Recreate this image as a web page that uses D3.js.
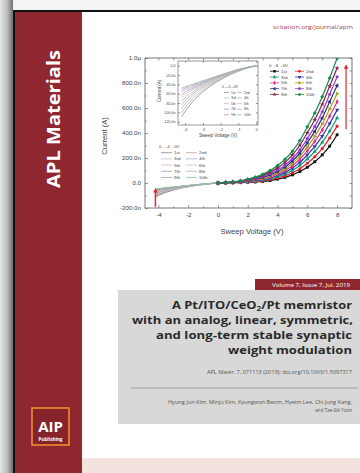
<!DOCTYPE html>
<html>
<head>
<meta charset="utf-8">
<script src="https://cdn.jsdelivr.net/npm/d3@7"></script>
<style>
  body { margin: 0; background: #fff; }
  svg { display: block; }
</style>
</head>
<body>
<div id="cover"></div>
<script>
// sweep voltages (V)
const posVoltage = [0, 0.5, 1, 1.5, 2, 2.5, 3, 3.5, 4, 4.5, 5, 5.5, 6, 6.5, 7, 7.5, 8];
const negVoltage = [0, -0.5, -1, -1.5, -2, -2.5, -3, -3.5, -4, -4.2];

// current (nA) for cycles 1st..10th, 0 -> 8 -> 0 V
const posCurrent = [
  [0, 1, 2, 3, 5, 8, 12, 19, 31, 45, 65, 92, 126, 170, 225, 295, 386],
  [0, 1, 3, 5, 7, 11, 17, 26, 40, 57, 82, 114, 158, 210, 275, 360, 455],
  [0, 2, 3, 6, 9, 14, 22, 33, 50, 71, 101, 140, 192, 252, 325, 415, 520],
  [0, 2, 4, 7, 11, 18, 27, 40, 60, 85, 120, 165, 225, 293, 375, 475, 585],
  [0, 2, 5, 9, 14, 22, 33, 48, 70, 99, 138, 190, 258, 333, 425, 535, 650],
  [0, 3, 6, 10, 17, 26, 39, 56, 81, 113, 157, 215, 290, 373, 473, 592, 715],
  [0, 3, 7, 12, 20, 30, 45, 65, 92, 127, 176, 240, 322, 413, 521, 650, 780],
  [0, 3, 8, 14, 23, 35, 52, 74, 104, 142, 196, 265, 355, 452, 570, 710, 850],
  [0, 4, 9, 16, 27, 41, 61, 87, 121, 165, 225, 302, 402, 506, 630, 775, 920],
  [0, 4, 10, 18, 30, 47, 70, 100, 140, 190, 255, 340, 450, 560, 690, 840, 1000]
];

// current (nA) for cycles 1st..10th, 0 -> -4 -> 0 V
const negCurrent = [
  [0, -5, -12, -20, -30, -42, -56, -74, -98, -110],
  [0, -5, -11, -19, -28, -39, -52, -68, -90, -101],
  [0, -5, -11, -18, -27, -37, -48, -62, -82, -92],
  [0, -4, -10, -17, -25, -35, -45, -58, -75, -84],
  [0, -4, -10, -16, -24, -33, -42, -54, -68, -76],
  [0, -4, -9, -16, -23, -31, -40, -50, -62, -69],
  [0, -4, -9, -15, -22, -30, -38, -47, -57, -63],
  [0, -4, -9, -15, -21, -28, -36, -44, -52, -57],
  [0, -4, -8, -14, -20, -27, -34, -41, -48, -52],
  [0, -4, -8, -14, -20, -26, -32, -39, -45, -48]
];

const cycleLabels = ['1st', '2nd', '3rd', '4th', '5th', '6th', '7th', '8th', '9th', '10th'];
const posColors = ['#111111', '#e0262c', '#1a9a7a', '#2b3ea6', '#e0368f', '#a8a41c', '#2b347e', '#8a3fd0', '#8e1d4c', '#118c4a'];
const negColors = ['#8c8c8c', '#c7a3a3', '#a9cbbf', '#a7aecb', '#d8a9c4', '#c9c79e', '#9c9fb8', '#bca6d8', '#b79aa8', '#8fbfa3'];

const xTicks = [-4, -2, 0, 2, 4, 6, 8];
const xTickLabels = ['-4', '-2', '0', '2', '4', '6', '8'];
const xMinor = [-3, -1, 1, 3, 5, 7];
const yTicks = [-200, 0, 200, 400, 600, 800, 1000];
const yTickLabels = ['-200.0n', '0.0', '200.0n', '400.0n', '600.0n', '800.0n', '1.0\u00b5'];
const yMinor = [-100, 100, 300, 500, 700, 900];

const insetXTicks = [-4, -3, -2, -1, 0];
const insetXTickLabels = ['-4', '-3', '-2', '-1', '0'];
const insetYTicks = [0, -20, -40, -60, -80, -100, -120];
const insetYTickLabels = ['0.0', '-20.0n', '-40.0n', '-60.0n', '-80.0n', '-100.0n', '-120.0n'];

const titleLines = ['A Pt/ITO/CeO', 'with an analog, linear, symmetric,', 'and long-term stable synaptic', 'weight modulation'];
const authorLines = ['Hyung Jun Kim, Minju Kim, Kyungwon Beom, Hyeim Lee, Chi Jung Kang,', 'and Tae-Sik Yoon'];

const W = 360, H = 473;
const chartFont = '"Liberation Sans", Arial, sans-serif';
const coverFont = '"Open Sans", "DejaVu Sans", sans-serif';
const maroon = '#8f2730';

const svg = d3.select('#cover').append('svg').attr('width', W).attr('height', H);
const defs = svg.append('defs');

// --- cover background -------------------------------------------------
const grad = defs.append('linearGradient').attr('id', 'shade').attr('x1', 0).attr('x2', 1).attr('y1', 0).attr('y2', 0);
grad.append('stop').attr('offset', 0).attr('stop-color', '#e4e4e4');
grad.append('stop').attr('offset', 0.55).attr('stop-color', '#bdbdbd');
grad.append('stop').attr('offset', 1).attr('stop-color', '#6f6f6f');

svg.append('rect').attr('width', W).attr('height', H).attr('fill', '#f4f4f4');
svg.append('rect').attr('x', 0).attr('y', 0).attr('width', 13).attr('height', H).attr('fill', 'url(#shade)');
svg.append('rect').attr('x', 13).attr('y', 10).attr('width', W - 13).attr('height', H - 10).attr('fill', '#111');
svg.append('rect').attr('x', 15).attr('y', 12).attr('width', W - 15).attr('height', H - 12).attr('fill', '#fff');
svg.append('rect').attr('x', 15).attr('y', 12).attr('width', 67).attr('height', H - 12).attr('fill', maroon);
svg.append('rect').attr('x', 82).attr('y', 458).attr('width', W - 82).attr('height', H - 458).attr('fill', '#f4e2de');

svg.append('text')
  .attr('transform', 'translate(60,188) rotate(-90)')
  .attr('font-family', coverFont).attr('font-weight', 700).attr('font-size', 18)
  .attr('textLength', 138).attr('lengthAdjust', 'spacingAndGlyphs')
  .attr('fill', '#fff').text('APL Materials');

// AIP logo
svg.append('rect').attr('x', 32).attr('y', 408).attr('width', 37).attr('height', 37)
  .attr('fill', '#86242c').attr('stroke', '#ee8d32').attr('stroke-width', 1.6);
svg.append('text').attr('x', 50.5).attr('y', 432).attr('text-anchor', 'middle')
  .attr('font-family', coverFont).attr('font-weight', 700).attr('font-size', 15)
  .attr('fill', '#fff').text('AIP');
svg.append('text').attr('x', 50.5).attr('y', 440.5).attr('text-anchor', 'middle')
  .attr('font-family', coverFont).attr('font-weight', 700).attr('font-size', 4.6)
  .attr('fill', '#fff').text('Publishing');

svg.append('text').attr('x', 273).attr('y', 29)
  .attr('font-family', coverFont).attr('font-size', 5.6).attr('fill', '#a8404c')
  .attr('textLength', 80).attr('lengthAdjust', 'spacingAndGlyphs')
  .text('scitation.org/journal/apm');

// --- main chart -------------------------------------------------------
const plot = {left: 145, right: 352, top: 58, bottom: 208};
const x = d3.scaleLinear().domain([-4.9, 9.0]).range([plot.left, plot.right]);
const y = d3.scaleLinear().domain([-200, 1000]).range([plot.bottom, plot.top]);

defs.append('clipPath').attr('id', 'plotClip').append('rect')
  .attr('x', plot.left).attr('y', plot.top).attr('width', plot.right - plot.left).attr('height', plot.bottom - plot.top);

const chart = svg.append('g');

function styleAxis(g) {
  g.attr('font-family', chartFont);
  g.select('.domain').remove();
  g.selectAll('line').attr('stroke', '#555').attr('stroke-width', 0.6);
  g.selectAll('text').attr('fill', '#444');
}

chart.append('g').attr('transform', 'translate(0,' + plot.bottom + ')')
  .call(d3.axisBottom(x).tickValues(xTicks).tickSizeInner(-3).tickSizeOuter(0).tickPadding(5)
    .tickFormat((d, i) => xTickLabels[i]))
  .call(styleAxis).attr('font-size', 6.2);
chart.append('g').attr('transform', 'translate(0,' + plot.bottom + ')')
  .call(d3.axisBottom(x).tickValues(xMinor).tickSizeInner(-1.6).tickSizeOuter(0).tickFormat(''))
  .call(styleAxis);
chart.append('g').attr('transform', 'translate(0,' + plot.top + ')')
  .call(d3.axisTop(x).tickValues(xTicks.concat(xMinor)).tickSizeInner(-2.5).tickSizeOuter(0).tickFormat(''))
  .call(styleAxis);
chart.append('g').attr('transform', 'translate(' + plot.left + ',0)')
  .call(d3.axisLeft(y).tickValues(yTicks).tickSizeInner(-3).tickSizeOuter(0).tickPadding(4)
    .tickFormat((d, i) => yTickLabels[i]))
  .call(styleAxis).attr('font-size', 6.2);
chart.append('g').attr('transform', 'translate(' + plot.left + ',0)')
  .call(d3.axisLeft(y).tickValues(yMinor).tickSizeInner(-1.6).tickSizeOuter(0).tickFormat(''))
  .call(styleAxis);
chart.append('g').attr('transform', 'translate(' + plot.right + ',0)')
  .call(d3.axisRight(y).tickValues(yTicks.concat(yMinor)).tickSizeInner(-2.5).tickSizeOuter(0).tickFormat(''))
  .call(styleAxis);

chart.append('rect').attr('x', plot.left).attr('y', plot.top)
  .attr('width', plot.right - plot.left).attr('height', plot.bottom - plot.top)
  .attr('fill', 'none').attr('stroke', '#555').attr('stroke-width', 0.8);

chart.append('text').attr('x', 252).attr('y', 234).attr('text-anchor', 'middle')
  .attr('font-family', chartFont).attr('font-size', 7.6).attr('fill', '#444')
  .text('Sweep Voltage (V)');
chart.append('text').attr('transform', 'translate(107,136) rotate(-90)').attr('text-anchor', 'middle')
  .attr('font-family', chartFont).attr('font-size', 7.6).attr('fill', '#444')
  .text('Current (A)');

const symbols = [d3.symbolSquare, d3.symbolCircle, d3.symbolTriangle, d3.symbolTriangle, d3.symbolDiamond,
  d3.symbolTriangle, d3.symbolTriangle, d3.symbolCircle, d3.symbolStar, d3.symbolSquare];
const symbolRotate = [0, 0, 0, 180, 0, 90, 270, 0, 0, 45];

const curves = chart.append('g').attr('clip-path', 'url(#plotClip)');

// negative sweep (0 -> -4 -> 0 V), drawn first, pale
negCurrent.forEach(function(series, k) {
  const pts = negVoltage.map((v, i) => [v, series[i]]);
  curves.append('path').datum(pts)
    .attr('fill', 'none').attr('stroke', negColors[k]).attr('stroke-width', 1.2)
    .attr('d', d3.line().x(d => x(d[0])).y(d => y(d[1])).curve(d3.curveCatmullRom.alpha(0.5)));
});

// positive sweep (0 -> 8 -> 0 V)
posCurrent.forEach(function(series, k) {
  const pts = posVoltage.map((v, i) => [v, series[i]]);
  curves.append('path').datum(pts)
    .attr('fill', 'none').attr('stroke', posColors[k]).attr('stroke-width', 1.2)
    .attr('d', d3.line().x(d => x(d[0])).y(d => y(d[1])).curve(d3.curveCatmullRom.alpha(0.5)));
  curves.selectAll(null).data(pts).enter().append('path')
    .attr('transform', d => 'translate(' + x(d[0]) + ',' + y(d[1]) + ') rotate(' + symbolRotate[k] + ')')
    .attr('d', d3.symbol().type(symbols[k]).size(8))
    .attr('fill', posColors[k]);
});

// red arrows (current change with cycling)
function arrow(parent, x1, y1, x2, y2, color, width) {
  const ang = Math.atan2(y2 - y1, x2 - x1);
  const len = 4.5, half = 2.2;
  parent.append('line').attr('x1', x1).attr('y1', y1)
    .attr('x2', x2 - Math.cos(ang) * len * 0.8).attr('y2', y2 - Math.sin(ang) * len * 0.8)
    .attr('stroke', color).attr('stroke-width', width);
  const bx = x2 - Math.cos(ang) * len, by = y2 - Math.sin(ang) * len;
  parent.append('path')
    .attr('d', 'M' + x2 + ',' + y2 + 'L' + (bx - Math.sin(ang) * half) + ',' + (by + Math.cos(ang) * half) +
      'L' + (bx + Math.sin(ang) * half) + ',' + (by - Math.cos(ang) * half) + 'Z')
    .attr('fill', color);
}
arrow(chart, x(8.6), y(430), x(8.6), y(950), '#e0282f', 1.2);
arrow(chart, x(-4.2), y(-190), x(-4.2), y(-40), '#e0282f', 1.5);

// legends
function legend(parent, title, x0, y0, dy, colX, colors, withMarkers, fs, lineLen) {
  const g = parent.append('g').attr('font-family', chartFont).attr('font-size', fs).attr('fill', '#444');
  g.append('text').attr('x', x0).attr('y', y0).text(title);
  cycleLabels.forEach(function(label, k) {
    const col = k % 2, row = Math.floor(k / 2);
    const lx = colX[col], ly = y0 + dy * (row + 1);
    g.append('line').attr('x1', lx).attr('x2', lx + lineLen).attr('y1', ly - fs * 0.35).attr('y2', ly - fs * 0.35)
      .attr('stroke', colors[k]).attr('stroke-width', 0.8);
    if (withMarkers) {
      g.append('path')
        .attr('transform', 'translate(' + (lx + lineLen / 2) + ',' + (ly - fs * 0.35) + ') rotate(' + symbolRotate[k] + ')')
        .attr('d', d3.symbol().type(symbols[k]).size(6)).attr('fill', colors[k]);
    }
    g.append('text').attr('x', lx + lineLen + 2).attr('y', ly).text(label);
  });
}
legend(chart, '0\u21928\u21920V', 269, 67, 5.8, [270, 295], posColors, true, 4.4, 9);
legend(chart, '0\u2192-4\u21920V', 159, 148, 6.2, [161, 186], negColors, false, 4.4, 11);

// --- inset ------------------------------------------------------------
const inset = {left: 178, right: 258, top: 61, bottom: 125};
const ix = d3.scaleLinear().domain([-4.4, 0.1]).range([inset.left, inset.right]);
const iy = d3.scaleLinear().domain([-127, 10]).range([inset.bottom, inset.top]);

defs.append('clipPath').attr('id', 'insetClip').append('rect')
  .attr('x', inset.left).attr('y', inset.top).attr('width', inset.right - inset.left).attr('height', inset.bottom - inset.top);

const ins = svg.append('g');
ins.append('rect').attr('x', 150).attr('y', inset.top).attr('width', inset.right - 150).attr('height', 80)
  .attr('fill', '#fff');

ins.append('g').attr('transform', 'translate(0,' + inset.bottom + ')')
  .call(d3.axisBottom(ix).tickValues(insetXTicks).tickSizeInner(-2).tickSizeOuter(0).tickPadding(3)
    .tickFormat((d, i) => insetXTickLabels[i]))
  .call(styleAxis).attr('font-size', 3.8);
ins.append('g').attr('transform', 'translate(0,' + inset.top + ')')
  .call(d3.axisTop(ix).tickValues(insetXTicks).tickSizeInner(-2).tickSizeOuter(0).tickFormat(''))
  .call(styleAxis);
ins.append('g').attr('transform', 'translate(' + inset.left + ',0)')
  .call(d3.axisLeft(iy).tickValues(insetYTicks).tickSizeInner(-2).tickSizeOuter(0).tickPadding(2.5)
    .tickFormat((d, i) => insetYTickLabels[i]))
  .call(styleAxis).attr('font-size', 3.6);
ins.append('g').attr('transform', 'translate(' + inset.right + ',0)')
  .call(d3.axisRight(iy).tickValues(insetYTicks).tickSizeInner(-2).tickSizeOuter(0).tickFormat(''))
  .call(styleAxis);
ins.append('rect').attr('x', inset.left).attr('y', inset.top)
  .attr('width', inset.right - inset.left).attr('height', inset.bottom - inset.top)
  .attr('fill', 'none').attr('stroke', '#555').attr('stroke-width', 0.6);

ins.append('text').attr('x', 218).attr('y', 137).attr('text-anchor', 'middle')
  .attr('font-family', chartFont).attr('font-size', 4.6).attr('fill', '#444').text('Sweep Voltage (V)');
ins.append('text').attr('transform', 'translate(161,91) rotate(-90)').attr('text-anchor', 'middle')
  .attr('font-family', chartFont).attr('font-size', 4.6).attr('fill', '#444').text('Current (A)');

const insetCurves = ins.append('g').attr('clip-path', 'url(#insetClip)');
negCurrent.forEach(function(series, k) {
  const pts = negVoltage.map((v, i) => [v, series[i]]);
  insetCurves.append('path').datum(pts)
    .attr('fill', 'none').attr('stroke', negColors[k]).attr('stroke-width', 0.8)
    .attr('d', d3.line().x(d => ix(d[0])).y(d => iy(d[1])).curve(d3.curveCatmullRom.alpha(0.5)));
});
legend(ins, '0\u2192-4\u21920V', 222, 88, 5.6, [224, 237], negColors, false, 3.4, 5);

// --- title block ------------------------------------------------------
svg.append('rect').attr('x', 255).attr('y', 279).attr('width', W - 255).attr('height', 11).attr('fill', maroon);
svg.append('text').attr('x', 272).attr('y', 286.5)
  .attr('font-family', coverFont).attr('font-size', 5).attr('fill', '#fff')
  .attr('textLength', 78).attr('lengthAdjust', 'spacingAndGlyphs')
  .text('Volume 7, Issue 7, Jul. 2019');

svg.append('rect').attr('x', 118).attr('y', 290).attr('width', W - 118).attr('height', 134).attr('fill', '#d8d8d8');

const titleLeft = [172, 132, 156, 228];
const titleWidth = [180, 221, 196, 124];
titleLines.forEach(function(line, i) {
  const t = svg.append('text').attr('x', titleLeft[i]).attr('y', 309 + i * 15)
    .attr('font-family', coverFont).attr('font-weight', 700).attr('font-size', 11).attr('fill', '#2a2a2a')
    .attr('textLength', titleWidth[i]).attr('lengthAdjust', 'spacingAndGlyphs');
  if (i === 0) {
    t.html(line + '<tspan font-size="7" dy="2">2</tspan><tspan dy="-2">/Pt memristor</tspan>');
  } else {
    t.text(line);
  }
});

svg.append('text').attr('x', 207).attr('y', 374)
  .attr('font-family', coverFont).attr('font-size', 4.6).attr('fill', '#555')
  .attr('textLength', 145).attr('lengthAdjust', 'spacingAndGlyphs')
  .text('APL Mater. 7, 071113 (2019); doi.org/10.1063/1.5097317');
svg.append('line').attr('x1', 131).attr('x2', 358).attr('y1', 388).attr('y2', 388)
  .attr('stroke', '#8a8a8a').attr('stroke-width', 0.7);
svg.append('text').attr('x', 168).attr('y', 403.5)
  .attr('font-family', coverFont).attr('font-size', 4.6).attr('fill', '#555')
  .attr('textLength', 184).attr('lengthAdjust', 'spacingAndGlyphs')
  .text(authorLines[0]);
svg.append('text').attr('x', 352).attr('y', 411.5).attr('text-anchor', 'end')
  .attr('font-family', coverFont).attr('font-size', 4.6).attr('fill', '#555')
  .text(authorLines[1]);
</script>
</body>
</html>
